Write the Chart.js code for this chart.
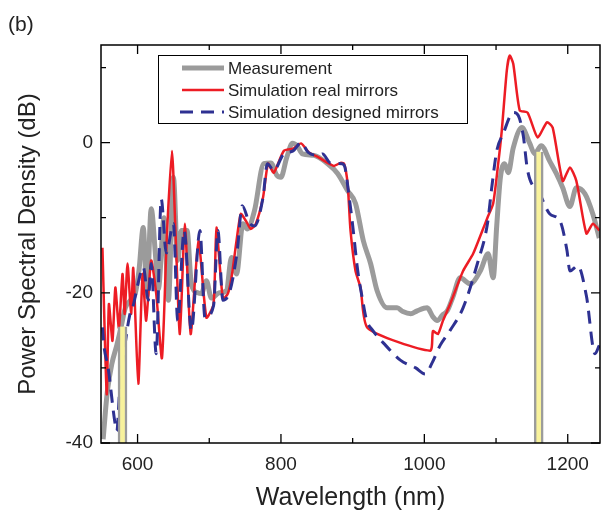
<!DOCTYPE html>
<html>
<head>
<meta charset="utf-8">
<script src="https://cdn.jsdelivr.net/npm/chart.js@4.4.1/dist/chart.umd.min.js"></script>
<style>
  html, body { margin: 0; padding: 0; background: #fff; }
  #wrap { width: 601px; height: 520px; }
</style>
</head>
<body>
<div id="wrap"><canvas id="psd"></canvas></div>
<script>
// tick labels
const xTickValues = [600, 800, 1000, 1200];
const yTickValues = [-40, -20, 0];

// Measurement (grey)
const measWl = [552, 555, 558, 564, 571, 576, 583, 590, 597, 602, 608, 613, 619, 625, 629, 637, 643, 650, 656, 661,
  669, 675, 684, 689, 696, 703, 714, 724, 731, 738, 747, 753, 763, 776, 786, 794, 800, 808, 816, 823,
  830, 846, 865, 879, 893, 904, 915, 925, 934, 948, 962, 970, 981, 990, 1004, 1012, 1018, 1025, 1032, 1040,
  1050, 1064, 1078, 1089, 1096, 1101, 1106, 1112, 1117, 1124, 1136, 1147, 1154, 1163, 1175, 1184, 1193, 1203, 1212, 1224,
  1235, 1244];
const measDb = [-39.5, -36, -33, -29.5, -27, -25, -22, -21, -20, -17, -11.3, -20.5, -8.8, -15, -19.5, -10, -21, -4.6, -15.7, -11.7,
  -11.7, -18.8, -20, -20.1, -18.4, -20.7, -20, -19.7, -15.3, -17.5, -10.8, -11.5, -9.1, -2.8, -2.7, -4.3, -4.6, -2, -0.1, -0.5,
  -1.5, -1.7, -2.8, -4.1, -6.4, -8.1, -13.1, -16.1, -19.7, -22, -22, -22.5, -22.8, -22.4, -22, -23.2, -23.7, -23, -22.4, -20.5,
  -18, -18.8, -17.1, -14.8, -18, -11, -4.7, -2.8, -4, -0.7, 2, -0.1, -1.5, -0.4, -2.5, -4.1, -6, -8.5, -6, -6.8,
  -9.5, -12.7];

// Simulation real mirrors (red)
const realWl = [551, 557, 560, 565, 569, 574, 579, 582, 586, 591, 594, 601, 607, 612, 619, 626, 634, 641, 648, 653,
  659, 666, 674, 685, 696, 706, 710, 719, 726, 731, 738, 744, 751, 758, 765, 775, 782, 790, 804, 817,
  828, 839, 853, 865, 874, 883, 888, 893, 897, 904, 911, 921, 1008, 1012, 1019, 1026, 1036, 1054, 1068, 1081,
  1088, 1096, 1103, 1108, 1115, 1119, 1124, 1133, 1144, 1158, 1171, 1179, 1193, 1203, 1212, 1226, 1235, 1244];
const realDb = [-14, -33.5, -21.5, -26.4, -19.3, -24.7, -17.5, -22.8, -16.1, -22.8, -16.7, -32.1, -17.5, -23.7, -15.7, -20.1, -28.7, -12.1, -1.1, -12.1,
  -25.5, -10.8, -25.5, -13.1, -23.3, -21.5, -11.3, -20.8, -20.1, -18, -13.1, -9.5, -10.4, -11.5, -10.8, -7.3, -2.8, -4, -1.1, -0.8,
  -0.1, -1.3, -2, -2.7, -3.1, -2.7, -2.8, -5.5, -11.7, -17.1, -19.3, -24.7, -27.7, -25.1, -25.5, -23.7, -21.5, -17.1, -14.8, -11.7,
  -10, -8.1, -2.8, 1.6, 9.6, 11.6, 10.5, 4.3, 4, 0.7, 2.7, 2, -5.1, -3.3, -5.1, -12.1, -10.8, -11.7];

// Simulation designed mirrors (blue dashed)
const designWl = [551, 553, 559, 568, 571, 575, 582, 589, 594, 600, 608, 615, 619, 626, 633, 640, 650, 656, 665, 675,
  687, 694, 706, 712, 719, 729, 739, 746, 756, 763, 775, 781, 790, 804, 817, 828, 838, 853, 858, 869,
  885, 889, 894, 900, 907, 914, 919, 928, 946, 967, 988, 1001, 1011, 1022, 1036, 1054, 1074, 1088, 1094, 1101,
  1110, 1124, 1131, 1138, 1144, 1161, 1175, 1189, 1199, 1203, 1214, 1226, 1238, 1244];
const designDb = [-24.6, -27, -30, -37, -38.4, -33, -27.3, -23, -21.7, -19, -16.6, -21, -16.1, -28.1, -7.5, -14.7, -10.8, -23.7, -11.7, -25,
  -11.7, -23.3, -21.7, -11.7, -21, -19.7, -14.4, -8.4, -10.7, -11.1, -7.3, -2.8, -3.7, -1.5, -1.1, 0, -1.3, -1.7, -1.5, -2.7,
  -2.8, -3.2, -6.4, -11, -17, -21, -23.5, -25, -27, -29, -30, -30.8, -29.3, -27, -25, -22, -16.1, -10.8, -6, -1.1,
  1.2, 4, 3.6, 0.9, -3.7, -6.8, -9.5, -10.4, -14.4, -17.1, -16.4, -20.4, -28.1, -27];

// highlighted wavelengths (yellow bars)
const markWl = [579, 1159.5];
const markTopDb = [-24.5, -1.2];

const legendLabels = ['Measurement', 'Simulation real mirrors', 'Simulation designed mirrors'];

const toPoints = (xs, ys) => xs.map((x, i) => ({ x: x, y: ys[i] }));

const GREY = '#9b9b9b';
const RED = '#ed1c24';
const BLUE = '#2e3192';

// frame, inward ticks, legend box and panel letter
const framePlugin = {
  id: 'frame',
  afterDraw(chart) {
    const ctx = chart.ctx;
    const a = chart.chartArea;
    const xs = chart.scales.x, ys = chart.scales.y;
    ctx.save();
    ctx.strokeStyle = '#000';
    ctx.lineWidth = 1.5;
    ctx.strokeRect(a.left, a.top, a.right - a.left, a.bottom - a.top);

    ctx.lineWidth = 1.3;
    for (let v = 600; v <= 1200; v += 100) {
      const px = xs.getPixelForValue(v);
      const len = v % 200 === 0 ? 9 : 5;
      ctx.beginPath();
      ctx.moveTo(px, a.bottom); ctx.lineTo(px, a.bottom - len);
      ctx.moveTo(px, a.top); ctx.lineTo(px, a.top + len);
      ctx.stroke();
    }
    for (let v = -40; v <= 10; v += 10) {
      const py = ys.getPixelForValue(v);
      const len = v % 20 === 0 ? 9 : 5;
      ctx.beginPath();
      ctx.moveTo(a.left, py); ctx.lineTo(a.left + len, py);
      ctx.moveTo(a.right, py); ctx.lineTo(a.right - len, py);
      ctx.stroke();
    }

    // legend
    const lx = 158, ly = 55, lw = 309, lh = 68;
    ctx.fillStyle = '#fff';
    ctx.fillRect(lx, ly, lw, lh);
    ctx.lineWidth = 1;
    ctx.strokeStyle = '#000';
    ctx.strokeRect(lx + 0.5, ly + 0.5, lw, lh);
    const rows = [68, 90, 112];
    const styles = [
      { color: GREY, width: 5, dash: [] },
      { color: RED, width: 2.5, dash: [] },
      { color: BLUE, width: 3, dash: [13, 8] }
    ];
    ctx.font = '17px "Liberation Sans", Arial, sans-serif';
    ctx.textBaseline = 'middle';
    rows.forEach((ry, i) => {
      ctx.beginPath();
      ctx.strokeStyle = styles[i].color;
      ctx.lineWidth = styles[i].width;
      ctx.setLineDash(styles[i].dash);
      ctx.moveTo(i === 2 ? 180 : 182, ry);
      ctx.lineTo(224, ry);
      ctx.stroke();
      ctx.setLineDash([]);
      ctx.fillStyle = '#222';
      ctx.fillText(legendLabels[i], 228, ry + 1);
    });

    ctx.font = '21px "Liberation Sans", Arial, sans-serif';
    ctx.fillStyle = '#222';
    ctx.textBaseline = 'alphabetic';
    ctx.fillText('(b)', 8, 31);
    ctx.restore();
  }
};

Chart.defaults.color = '#222';
Chart.defaults.font.family = '"Liberation Sans", Arial, sans-serif';

new Chart(document.getElementById('psd'), {
  type: 'line',
  data: {
    datasets: [
      {
        label: legendLabels[0],
        data: toPoints(measWl, measDb),
        borderColor: GREY,
        borderWidth: 5,
        pointRadius: 0,
        cubicInterpolationMode: 'monotone',
        order: 3
      },
      {
        label: legendLabels[1],
        data: toPoints(realWl, realDb),
        borderColor: RED,
        borderWidth: 2.5,
        pointRadius: 0,
        tension: 0.2,
        order: 2
      },
      {
        label: legendLabels[2],
        data: toPoints(designWl, designDb),
        borderColor: BLUE,
        borderWidth: 3,
        borderDash: [13, 8],
        pointRadius: 0,
        cubicInterpolationMode: 'monotone',
        order: 1
      },
      {
        type: 'bar',
        label: 'marks',
        data: markWl.map((x, i) => ({ x: x, y: [-40, markTopDb[i]] })),
        backgroundColor: '#f8f29c',
        borderColor: GREY,
        borderWidth: { left: 2.5, right: 2.5, top: 0, bottom: 0 },
        borderSkipped: false,
        barThickness: 9,
        grouped: false,
        order: 0
      }
    ]
  },
  options: {
    responsive: true,
    maintainAspectRatio: false,
    animation: false,
    events: [],
    layout: { padding: { top: 45, right: 1, left: 0, bottom: 0 } },
    plugins: {
      legend: { display: false },
      tooltip: { enabled: false },
      title: { display: false }
    },
    scales: {
      x: {
        type: 'linear',
        min: 549,
        max: 1245,
        offset: false,
        grid: { display: false, drawTicks: false },
        border: { display: false },
        afterBuildTicks: s => { s.ticks = xTickValues.map(v => ({ value: v })); },
        afterFit: s => { s.height = 77; },
        ticks: {
          padding: 10,
          autoSkip: false,
          maxRotation: 0,
          font: { size: 19 },
          color: '#222',
          callback: v => String(v)
        },
        title: {
          display: true,
          text: 'Wavelength (nm)',
          font: { size: 25 },
          color: '#222',
          padding: { top: 0, bottom: 7 }
        }
      },
      y: {
        min: -40,
        max: 13,
        grid: { display: false, drawTicks: false },
        border: { display: false },
        afterBuildTicks: s => { s.ticks = yTickValues.map(v => ({ value: v })); },
        afterFit: s => { s.width = 101; },
        ticks: {
          padding: 8,
          font: { size: 19 },
          color: '#222',
          callback: v => String(v)
        },
        title: {
          display: true,
          text: 'Power Spectral Density (dB)',
          font: { size: 24 },
          color: '#222',
          padding: { top: 14, bottom: 0 }
        }
      }
    }
  },
  plugins: [framePlugin]
});
</script>
</body>
</html>
